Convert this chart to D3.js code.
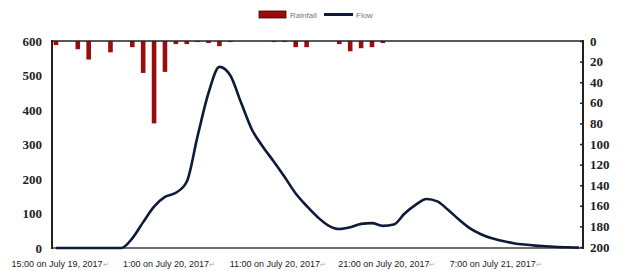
<!DOCTYPE html>
<html>
<head>
<meta charset="utf-8">
<script src="https://cdn.jsdelivr.net/npm/d3@7"></script>
<style>
    body { margin: 0; background: #fff; }
    svg { display: block; }
</style>
</head>
<body>
<svg id="chart" width="622" height="271"></svg>
<script>
    'use strict';

    // hourly steps from 15:00 on July 19, 2017
    var hours = d3.range(0, 49);

    var flow = [
        0, 0, 0, 0, 0, 0, 0, 28, 75, 120,
        148, 160, 192, 325, 450, 525, 500, 420, 342, 293,
        250, 205, 158, 122, 90, 65, 55, 60, 70, 72,
        64, 68, 100, 125, 142, 135, 110, 82, 57, 40,
        28, 20, 14, 10, 7, 5, 3, 2, 1
    ];

    var rainfall = [
        4, 0, 8, 18, 0, 11, 0, 6, 31, 80,
        30, 3, 3, 1, 2, 5, 1, 0, 0, 0,
        1, 1, 6, 6, 0, 0, 3, 10, 7, 6,
        2, 0, 0, 0, 0, 0, 0, 0, 0, 0,
        0, 0, 0, 0, 0, 0, 0, 0, 0
    ];

    var tickHours = [0, 10, 20, 30, 40];
    var tickLabels = [
        '15:00 on July 19, 2017',
        '1:00 on July 20, 2017',
        '11:00 on July 20, 2017',
        '21:00 on July 20, 2017',
        '7:00 on July 21, 2017'
    ];
    var flowTicks = [0, 100, 200, 300, 400, 500, 600];
    var rainTicks = [0, 20, 40, 60, 80, 100, 120, 140, 160, 180, 200];

    var plot = { left: 52, right: 583, top: 41, bottom: 248 },
        barColor = '#9b0d0d',
        lineColor = '#0e1a3a',
        numFont = '"Liberation Serif", "Times New Roman", serif';

    var svg = d3.select('#chart');

    var x = d3.scalePoint()
        .domain(hours)
        .range([56, 579]);

    var yFlow = d3.scaleLinear()
        .domain([0, 600])
        .range([plot.bottom, plot.top]);

    var yRain = d3.scaleLinear()
        .domain([0, 200])
        .range([plot.top, plot.bottom - 1]);

    // rainfall bars hang from the top edge
    svg.append('g')
        .selectAll('rect')
        .data(rainfall)
        .enter()
        .append('rect')
        .attr('x', function (d, i) { return x(hours[i]) - 2.3; })
        .attr('y', yRain(0))
        .attr('width', 4.6)
        .attr('height', function (d) { return yRain(d) - yRain(0); })
        .style('fill', barColor);

    // frame
    svg.append('line')
        .attr('x1', plot.left).attr('x2', plot.right)
        .attr('y1', plot.bottom).attr('y2', plot.bottom)
        .style('stroke', '#6e6e6e')
        .style('stroke-width', 2);

    svg.append('line')
        .attr('x1', plot.left).attr('x2', plot.right)
        .attr('y1', plot.top).attr('y2', plot.top)
        .style('stroke', '#222')
        .style('stroke-width', 1.6);

    svg.append('line')
        .attr('x1', plot.left).attr('x2', plot.left)
        .attr('y1', plot.top - 1).attr('y2', plot.bottom + 1)
        .style('stroke', '#222')
        .style('stroke-width', 2);

    svg.append('line')
        .attr('x1', plot.right).attr('x2', plot.right)
        .attr('y1', plot.top - 1).attr('y2', plot.bottom + 1)
        .style('stroke', '#222')
        .style('stroke-width', 2);

    // flow line
    var line = d3.line()
        .x(function (d, i) { return x(hours[i]); })
        .y(function (d) { return yFlow(d); })
        .curve(d3.curveMonotoneX);

    svg.append('path')
        .datum(flow)
        .attr('d', line)
        .style('fill', 'none')
        .style('stroke', lineColor)
        .style('stroke-width', 2.6)
        .style('stroke-linejoin', 'round');

    // left axis
    var leftAxis = svg.append('g')
        .attr('transform', 'translate(' + plot.left + ',0)')
        .call(d3.axisLeft(yFlow).tickValues(flowTicks).tickSize(0).tickPadding(10));

    // right axis, ticks point inward
    var rightAxis = svg.append('g')
        .attr('transform', 'translate(' + plot.right + ',0)')
        .call(d3.axisRight(yRain).tickValues(rainTicks).tickSizeInner(-3).tickSizeOuter(0).tickPadding(7));

    [leftAxis, rightAxis].forEach(function (ax) {
        ax.select('.domain').remove();
        ax.selectAll('line').style('stroke', '#222').style('stroke-width', 1.5);
        ax.selectAll('text')
            .style('font-family', numFont)
            .style('font-weight', 'bold')
            .style('font-size', '13px')
            .style('fill', '#222');
    });

    // category labels
    var xLabels = svg.append('g')
        .selectAll('text')
        .data(tickHours)
        .enter()
        .append('text')
        .attr('x', function (d) { return x(d) + 4; })
        .attr('y', 267)
        .attr('text-anchor', 'middle')
        .style('font-family', '"Liberation Sans", Arial, sans-serif')
        .style('font-size', '9px')
        .style('fill', '#222');

    xLabels.append('tspan')
        .text(function (d, i) { return tickLabels[i]; });
    xLabels.append('tspan')
        .style('fill', '#aaa')
        .style('font-size', '7px')
        .text('\u21b5');

    // legend
    var legend = svg.append('g');

    legend.append('rect')
        .attr('x', 259).attr('y', 11)
        .attr('width', 27).attr('height', 7)
        .style('fill', barColor)
        .style('stroke', '#3a0000')
        .style('stroke-width', 0.8);

    legend.append('text')
        .attr('x', 290).attr('y', 17.5)
        .style('font-family', '"Liberation Sans", Arial, sans-serif')
        .style('font-size', '8px')
        .style('fill', '#777')
        .text('Rainfall');

    legend.append('line')
        .attr('x1', 324).attr('x2', 353)
        .attr('y1', 14.5).attr('y2', 14.5)
        .style('stroke', lineColor)
        .style('stroke-width', 3);

    legend.append('text')
        .attr('x', 356).attr('y', 17.5)
        .style('font-family', '"Liberation Sans", Arial, sans-serif')
        .style('font-size', '8px')
        .style('fill', '#777')
        .text('Flow');
</script>
</body>
</html>
